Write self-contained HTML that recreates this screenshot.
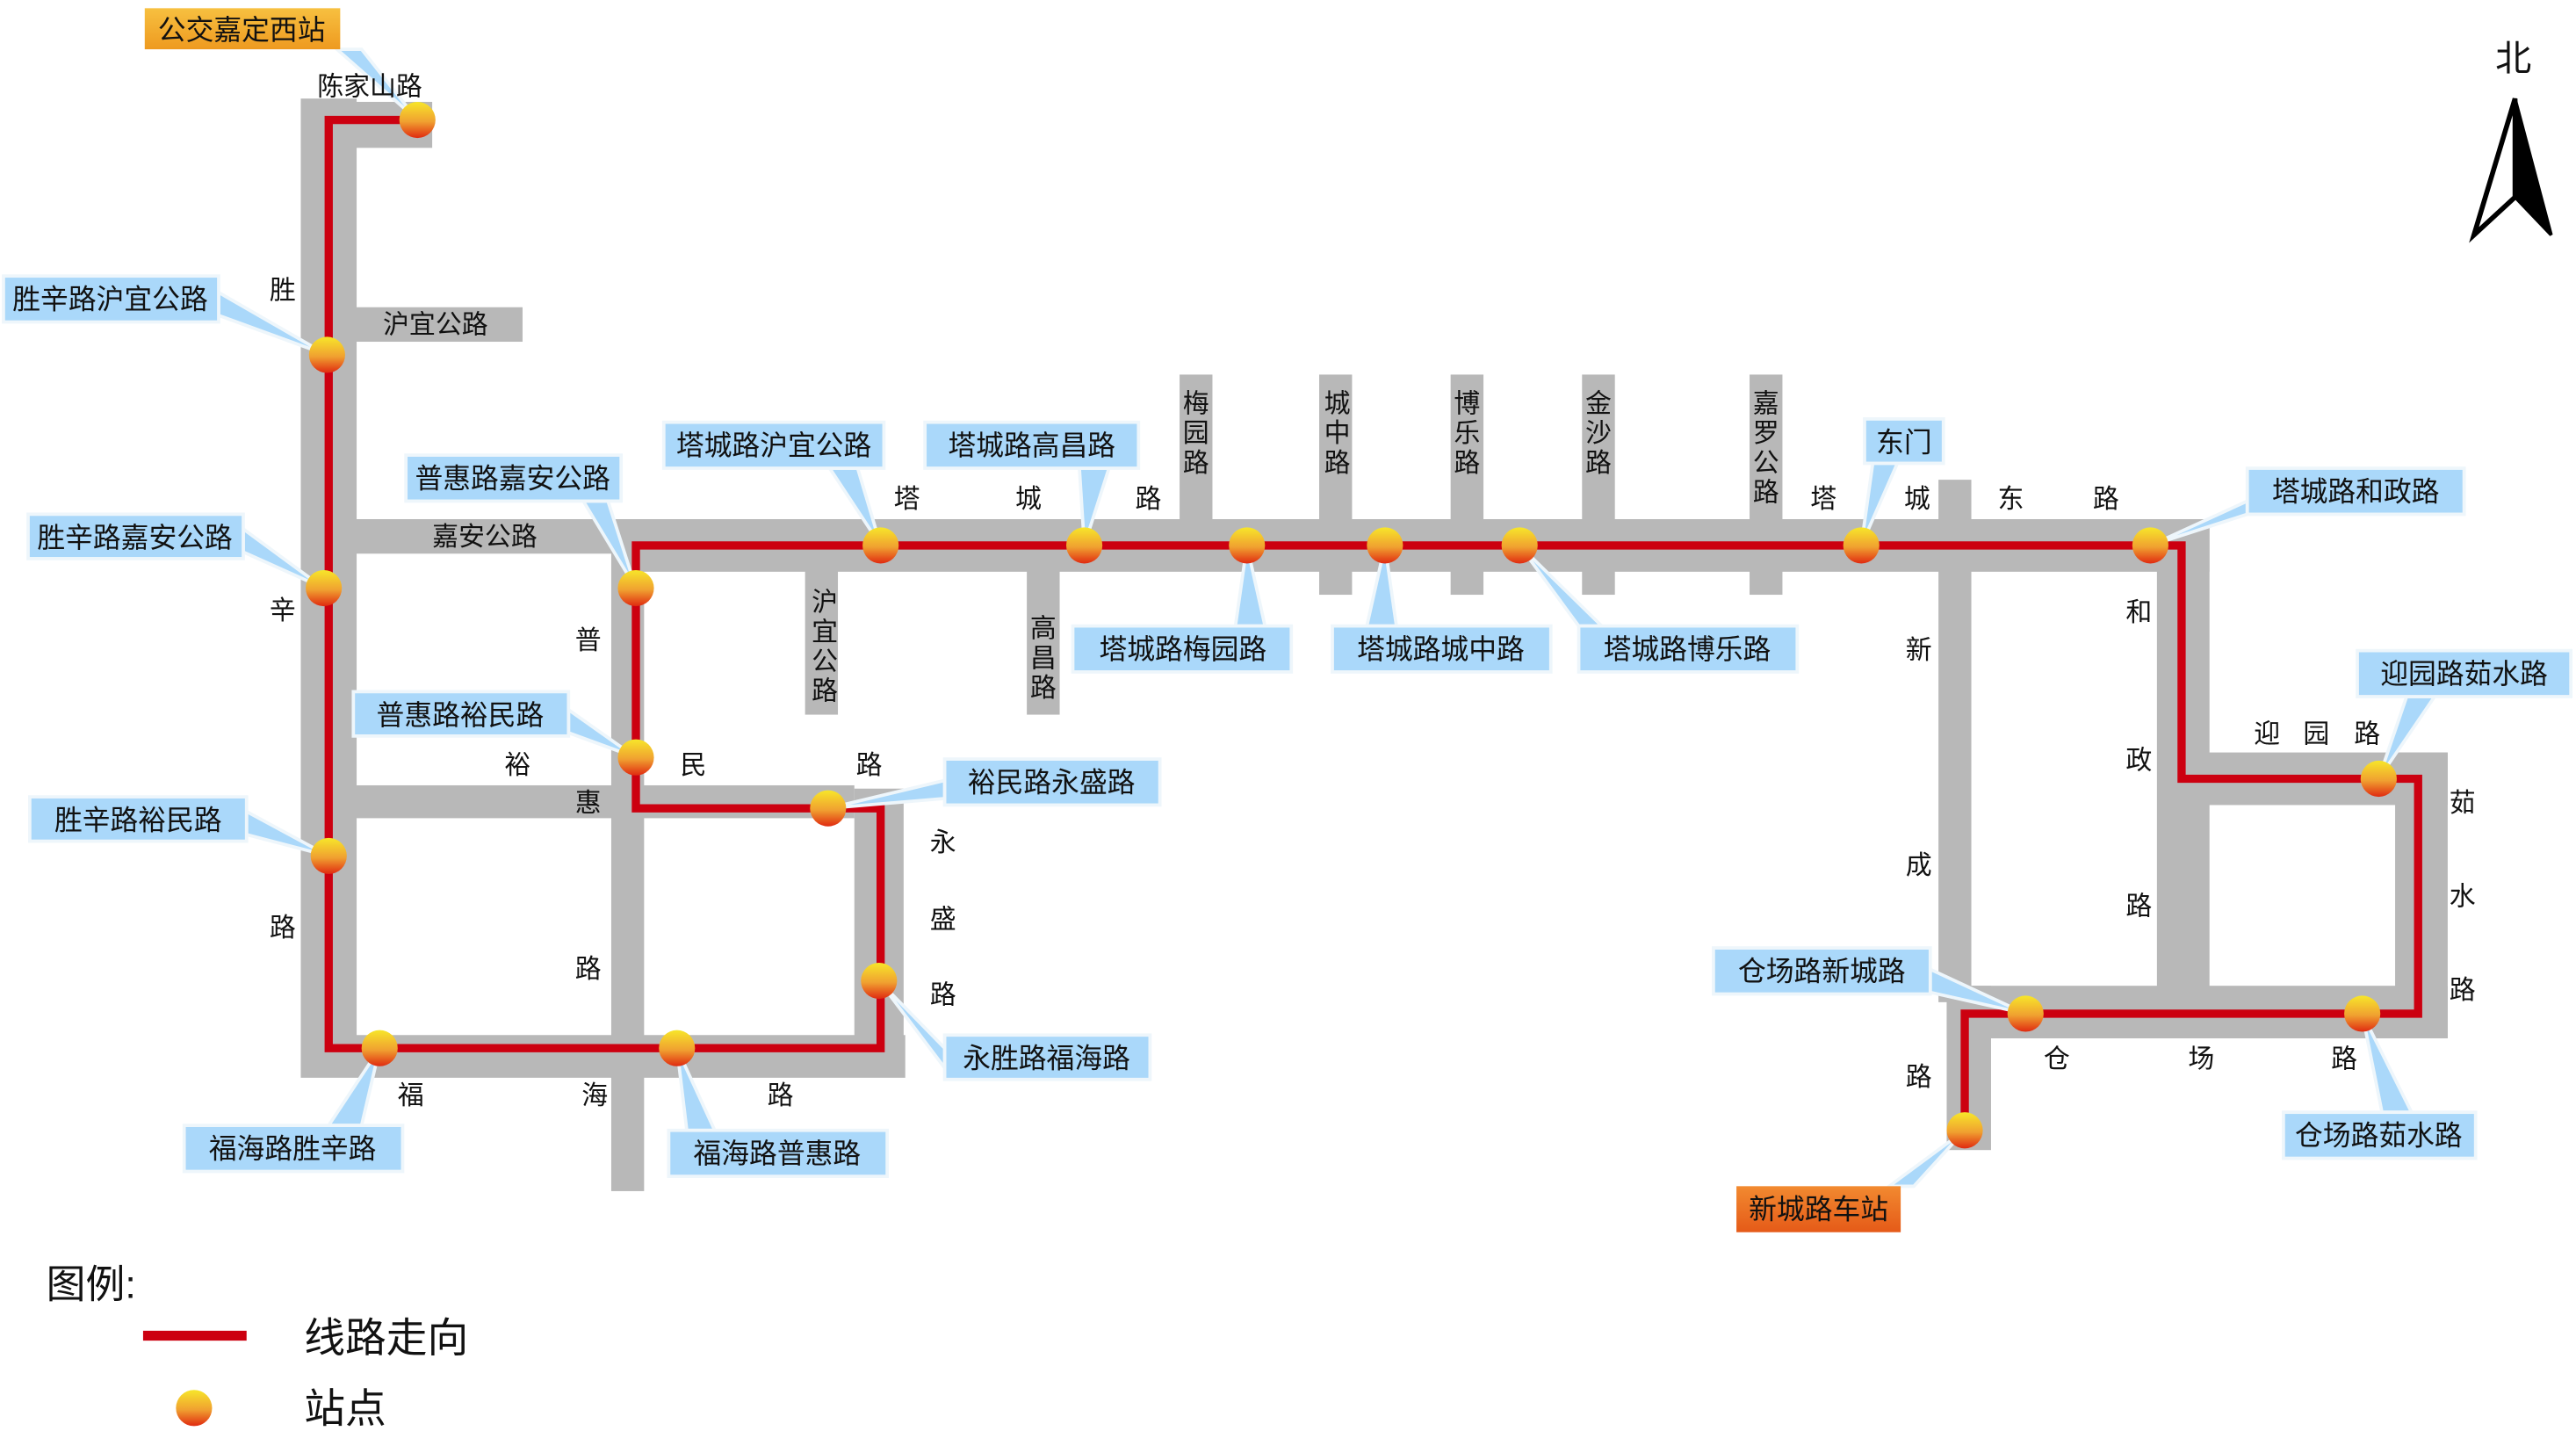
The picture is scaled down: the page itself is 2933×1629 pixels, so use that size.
<!DOCTYPE html>
<html><head><meta charset="utf-8"><style>
html,body{margin:0;padding:0;background:#fff}
svg{display:block}
text{font-family:"Liberation Sans","Noto Sans CJK SC",sans-serif;fill:#111}
</style></head><body>
<svg width="2933" height="1629" viewBox="0 0 1568 871" xmlns="http://www.w3.org/2000/svg">
<defs>
<linearGradient id="st" x1="0" y1="0" x2="0" y2="1">
<stop offset="0" stop-color="#f7e62a"/><stop offset="0.55" stop-color="#f0a030"/><stop offset="1" stop-color="#e02a10"/>
</linearGradient>
<linearGradient id="og" x1="0" y1="0" x2="0" y2="1"><stop offset="0" stop-color="#f7c040"/><stop offset="1" stop-color="#ee9a20"/></linearGradient>
<linearGradient id="rg" x1="0" y1="0" x2="0" y2="1"><stop offset="0" stop-color="#f28a30"/><stop offset="1" stop-color="#e55a18"/></linearGradient>
</defs>
<g fill="#b8b8b8">
<rect x="183" y="60" width="34" height="595"/>
<rect x="183" y="62" width="80" height="28"/>
<rect x="200" y="187" width="118" height="21"/>
<rect x="200" y="316" width="180" height="21"/>
<rect x="200" y="478" width="320" height="20"/>
<rect x="183" y="630" width="368" height="26"/>
<rect x="372" y="320" width="20" height="405"/>
<rect x="520" y="480" width="30" height="175"/>
<rect x="375" y="316" width="970" height="32"/>
<rect x="490" y="340" width="20" height="95"/>
<rect x="625" y="340" width="20" height="95"/>
<rect x="718" y="228" width="20" height="92"/>
<rect x="803" y="228" width="20" height="134"/>
<rect x="883" y="228" width="20" height="134"/>
<rect x="963" y="228" width="20" height="134"/>
<rect x="1065" y="228" width="20" height="134"/>
<rect x="1180" y="292" width="20" height="30"/>
<rect x="1180" y="340" width="20" height="270"/>
<rect x="1313" y="316" width="32" height="294"/>
<rect x="1328" y="458" width="162" height="32"/>
<rect x="1458" y="458" width="32" height="174"/>
<rect x="1185" y="600" width="305" height="32"/>
<rect x="1185" y="600" width="27" height="100"/>
</g>
<polyline fill="none" stroke="#cc0010" stroke-width="5" points="254,73 200,73 200,638 536,638 536,492 387,492 387,332 1328,332 1328,474 1472,474 1472,617 1196,617 1196,688"/>
<g fill="#aad8fa" stroke="#eef6fb" stroke-width="2">
<polygon points="205,30 220,30 254,73"/><rect x="88" y="5" width="119" height="25" fill="url(#og)" stroke="none"/>
<polygon points="133,178 133,192 199,216"/><rect x="2" y="168" width="131" height="28"/>
<polygon points="148,322 148,336 197,358"/><rect x="17" y="313" width="131" height="27"/>
<polygon points="150,494 150,508 200,521"/><rect x="18" y="485" width="132" height="27"/>
<polygon points="200,685 220,685 231,638"/><rect x="112" y="685" width="133" height="28"/>
<polygon points="418,688 435,688 412,638"/><rect x="407" y="688" width="133" height="28"/>
<polygon points="575,638 575,650 535,597"/><rect x="575" y="630" width="125" height="27"/>
<polygon points="575,475 575,486 504,492"/><rect x="575" y="462" width="131" height="28"/>
<polygon points="346,432 346,446 387,461"/><rect x="215" y="421" width="131" height="27"/>
<polygon points="355,305 370,305 387,358"/><rect x="247" y="277" width="131" height="28"/>
<polygon points="505,285 522,285 536,332"/><rect x="404" y="257" width="134" height="28"/>
<polygon points="657,285 675,285 660,332"/><rect x="563" y="257" width="130" height="28"/>
<polygon points="752,381 770,381 759,332"/><rect x="653" y="381" width="133" height="28"/>
<polygon points="832,381 850,381 843,332"/><rect x="811" y="381" width="133" height="28"/>
<polygon points="961,381 975,381 925,332"/><rect x="961" y="381" width="133" height="28"/>
<polygon points="1140,282 1155,282 1133,332"/><rect x="1135" y="255" width="48" height="27"/>
<polygon points="1368,305 1368,313 1309,332"/><rect x="1368" y="285" width="132" height="28"/>
<polygon points="1465,424 1482,424 1448,474"/><rect x="1435" y="396" width="130" height="28"/>
<polygon points="1450,677 1468,677 1438,617"/><rect x="1390" y="677" width="117" height="28"/>
<polygon points="1175,590 1175,604 1233,617"/><rect x="1043" y="577" width="132" height="28"/>
<polygon points="1150,722 1165,722 1196,688"/><rect x="1057" y="722" width="100" height="28" fill="url(#rg)" stroke="none"/>
</g>
<g fill="url(#st)">
<circle cx="254" cy="73" r="11"/><circle cx="199" cy="216" r="11"/><circle cx="197" cy="358" r="11"/><circle cx="200" cy="521" r="11"/>
<circle cx="231" cy="638" r="11"/><circle cx="412" cy="638" r="11"/><circle cx="535" cy="597" r="11"/><circle cx="504" cy="492" r="11"/>
<circle cx="387" cy="461" r="11"/><circle cx="387" cy="358" r="11"/><circle cx="536" cy="332" r="11"/><circle cx="660" cy="332" r="11"/>
<circle cx="759" cy="332" r="11"/><circle cx="843" cy="332" r="11"/><circle cx="925" cy="332" r="11"/><circle cx="1133" cy="332" r="11"/>
<circle cx="1309" cy="332" r="11"/><circle cx="1448" cy="474" r="11"/><circle cx="1438" cy="617" r="11"/><circle cx="1233" cy="617" r="11"/>
<circle cx="1196" cy="688" r="11"/><circle cx="118" cy="857" r="11"/>
</g>
<g font-size="17" text-anchor="middle">
<text x="147" y="24">公交嘉定西站</text>
<text x="67" y="188">胜辛路沪宜公路</text>
<text x="82" y="333">胜辛路嘉安公路</text>
<text x="84" y="505">胜辛路裕民路</text>
<text x="178" y="705">福海路胜辛路</text>
<text x="473" y="708">福海路普惠路</text>
<text x="637" y="650">永胜路福海路</text>
<text x="640" y="482">裕民路永盛路</text>
<text x="280" y="441">普惠路裕民路</text>
<text x="312" y="297">普惠路嘉安公路</text>
<text x="471" y="277">塔城路沪宜公路</text>
<text x="628" y="277">塔城路高昌路</text>
<text x="720" y="401">塔城路梅园路</text>
<text x="877" y="401">塔城路城中路</text>
<text x="1027" y="401">塔城路博乐路</text>
<text x="1159" y="275">东门</text>
<text x="1434" y="305">塔城路和政路</text>
<text x="1500" y="416">迎园路茹水路</text>
<text x="1448" y="697">仓场路茹水路</text>
<text x="1109" y="597">仓场路新城路</text>
<text x="1107" y="742">新城路车站</text>
</g>
<g font-size="16" text-anchor="middle">
<text x="225" y="58">陈家山路</text><text x="265" y="203">沪宜公路</text><text x="295" y="332">嘉安公路</text>
<text x="172" y="182">胜</text><text x="172" y="377">辛</text><text x="172" y="570">路</text>
<text x="358" y="395">普</text><text x="315" y="471">裕</text><text x="358" y="494">惠</text><text x="358" y="595">路</text>
<text x="422" y="471">民</text><text x="529" y="471">路</text>
<text x="574" y="518">永</text><text x="574" y="565">盛</text><text x="574" y="611">路</text>
<text x="250" y="672">福</text><text x="362" y="672">海</text><text x="475" y="672">路</text>
<text x="552" y="309">塔</text><text x="626" y="309">城</text><text x="699" y="309">路</text>
<text x="1110" y="309">塔</text><text x="1167" y="309">城</text><text x="1224" y="309">东</text><text x="1282" y="309">路</text>
<text x="1168" y="401">新</text><text x="1168" y="532">成</text><text x="1168" y="661">路</text>
<text x="1302" y="378">和</text><text x="1302" y="468">政</text><text x="1302" y="557">路</text>
<text x="1380" y="452">迎</text><text x="1410" y="452">园</text><text x="1441" y="452">路</text>
<text x="1499" y="494">茹</text><text x="1499" y="551">水</text><text x="1499" y="608">路</text>
<text x="1252" y="650">仓</text><text x="1340" y="650">场</text><text x="1427" y="650">路</text>
<text x="502" y="372">沪</text><text x="502" y="390">宜</text><text x="502" y="408">公</text><text x="502" y="426">路</text>
<text x="635" y="388">高</text><text x="635" y="406">昌</text><text x="635" y="424">路</text>
<text x="728" y="251">梅</text><text x="728" y="269">园</text><text x="728" y="287">路</text>
<text x="814" y="251">城</text><text x="814" y="269">中</text><text x="814" y="287">路</text>
<text x="893" y="251">博</text><text x="893" y="269">乐</text><text x="893" y="287">路</text>
<text x="973" y="251">金</text><text x="973" y="269">沙</text><text x="973" y="287">路</text>
<text x="1075" y="251">嘉</text><text x="1075" y="269">罗</text><text x="1075" y="287">公</text><text x="1075" y="305">路</text>
</g>
<text x="1530" y="43" font-size="22" text-anchor="middle">北</text>
<polygon points="1531,60 1506,143 1531,120" fill="#fff" stroke="#000" stroke-width="3" stroke-linejoin="miter"/>
<polygon points="1531,60 1553,143 1531,120" fill="#000" stroke="#000" stroke-width="2"/>
<text x="28" y="790" font-size="24">图例:</text>
<line x1="87" y1="813" x2="150" y2="813" stroke="#cc0010" stroke-width="6"/>
<text x="185" y="823" font-size="25">线路走向</text>
<text x="185" y="866" font-size="25">站点</text>
</svg>
</body></html>
